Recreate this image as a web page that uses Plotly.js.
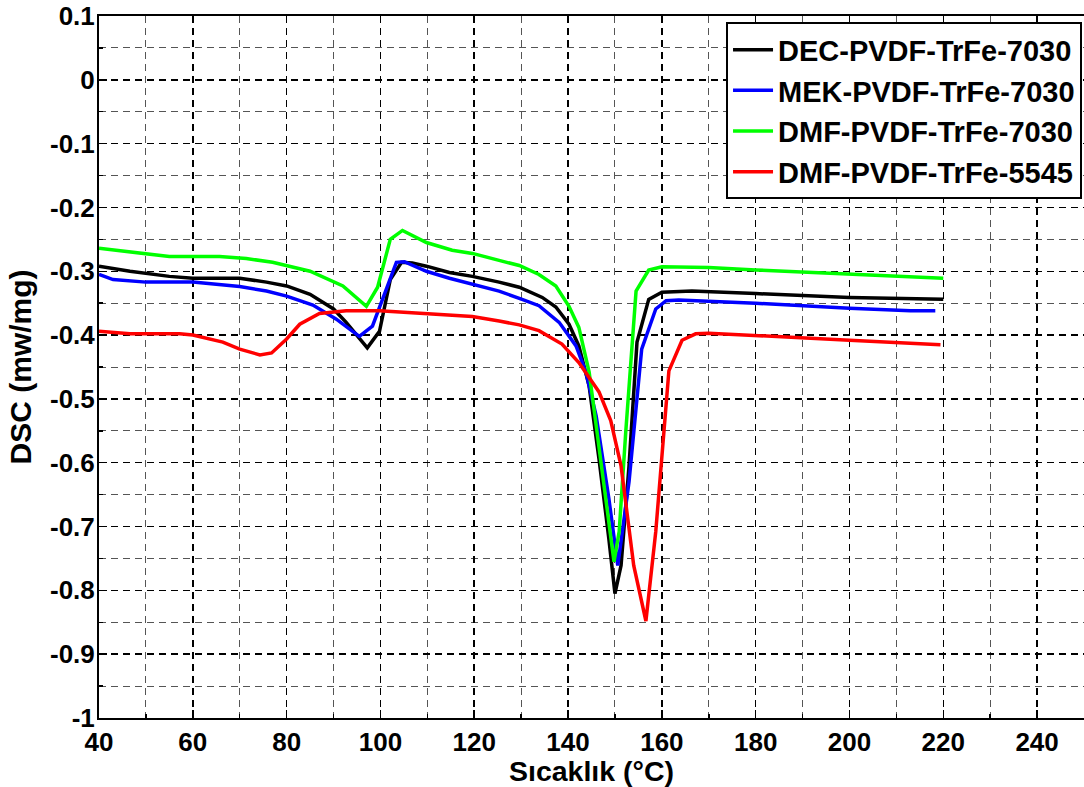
<!DOCTYPE html>
<html>
<head>
<meta charset="utf-8">
<script src="https://cdn.plot.ly/plotly-3.0.1.min.js"></script>
<style>html,body{margin:0;padding:0;background:#fff;}#chart{width:1084px;height:787px;}</style>
</head>
<body>
<div id="chart"></div>
<script>
const seriesNames = ["DEC-PVDF-TrFe-7030", "MEK-PVDF-TrFe-7030", "DMF-PVDF-TrFe-7030", "DMF-PVDF-TrFe-5545"];

const decX = [40, 46.6, 55, 60, 70, 75.7, 80, 85, 90, 92.7, 97.2, 99.8, 102.1, 104.5, 106.8, 109.8, 114.7, 119.6, 125.3, 129.6, 134.5, 137.4, 140.2, 142.3, 144.5, 146.6, 148.7, 150, 151.3, 153, 154.7, 157.2, 160, 166.4, 180, 200, 220];
const decY = [-0.292, -0.300, -0.308, -0.311, -0.311, -0.317, -0.323, -0.336, -0.359, -0.380, -0.420, -0.394, -0.313, -0.286, -0.287, -0.292, -0.302, -0.308, -0.317, -0.325, -0.341, -0.356, -0.383, -0.417, -0.480, -0.594, -0.719, -0.805, -0.761, -0.605, -0.411, -0.344, -0.333, -0.331, -0.335, -0.341, -0.344];

const mekX = [40, 43, 50, 60, 70, 75.7, 80, 85.6, 90.6, 95.5, 98.3, 100.4, 103.4, 105.1, 109.8, 114.7, 119.6, 125.3, 130.2, 133.8, 138.1, 141.7, 143.8, 146, 148.7, 150.6, 153, 155.7, 158.7, 160.9, 163.6, 180, 200, 213, 218.3];
const mekY = [-0.305, -0.313, -0.317, -0.317, -0.324, -0.331, -0.339, -0.353, -0.375, -0.402, -0.386, -0.344, -0.286, -0.285, -0.300, -0.311, -0.320, -0.331, -0.344, -0.354, -0.380, -0.417, -0.458, -0.527, -0.656, -0.761, -0.630, -0.422, -0.359, -0.346, -0.345, -0.350, -0.358, -0.362, -0.362];

const dmf70X = [40, 50, 55, 65.7, 71.4, 77, 85, 92, 97, 99.4, 102.1, 104.7, 109.8, 115.3, 119.6, 125.3, 129.6, 133.8, 137.4, 140.2, 142.3, 144.5, 147.2, 149.8, 150.9, 152.3, 154.5, 157.2, 160, 170, 180, 200, 220];
const dmf70Y = [-0.264, -0.273, -0.277, -0.277, -0.280, -0.286, -0.300, -0.323, -0.355, -0.325, -0.250, -0.236, -0.255, -0.267, -0.272, -0.283, -0.291, -0.305, -0.323, -0.355, -0.388, -0.458, -0.605, -0.755, -0.708, -0.552, -0.331, -0.298, -0.293, -0.294, -0.298, -0.305, -0.311];

const dmf55X = [40, 46.6, 57.2, 60, 66.4, 70, 74.3, 76.8, 80, 82.8, 87, 92.7, 99.8, 104, 109.8, 119.6, 125.3, 129.6, 133.8, 138.7, 142.3, 146.6, 149.1, 151.3, 154, 156.6, 158.7, 161.5, 164.3, 167.2, 170, 180, 200, 219.4];
const dmf55Y = [-0.394, -0.398, -0.398, -0.400, -0.411, -0.422, -0.431, -0.428, -0.406, -0.383, -0.366, -0.362, -0.362, -0.364, -0.366, -0.371, -0.378, -0.384, -0.393, -0.414, -0.443, -0.489, -0.534, -0.605, -0.761, -0.848, -0.708, -0.456, -0.408, -0.398, -0.397, -0.401, -0.408, -0.415];

const xTicks = [40, 60, 80, 100, 120, 140, 160, 180, 200, 220, 240];
const yTicks = [0.1, 0, -0.1, -0.2, -0.3, -0.4, -0.5, -0.6, -0.7, -0.8, -0.9, -1];

const colors = ["#000000", "#0000ff", "#00ff00", "#ff0000"];
const xs = [decX, mekX, dmf70X, dmf55X];
const ys = [decY, mekY, dmf70Y, dmf55Y];

const fontFam = "Liberation Sans, Arial, Helvetica, sans-serif";

const traces = seriesNames.map((n, i) => ({
  type: "scatter", mode: "lines", name: n,
  x: xs[i], y: ys[i],
  line: {color: colors[i], width: 3.5}
}));

const layout = {
  width: 1084, height: 787,
  margin: {l: 99, r: 0, t: 16, b: 69},
  paper_bgcolor: "#ffffff", plot_bgcolor: "#ffffff",
  font: {family: fontFam, size: 26, color: "#000", weight: 700},
  showlegend: true,
  legend: {
    x: 0.998, y: 0.991, xanchor: "right", yanchor: "top",
    bgcolor: "#ffffff", bordercolor: "#000000", borderwidth: 2,
    font: {family: fontFam, size: 29, color: "#000", weight: 700},
    tracegroupgap: 0, itemwidth: 40
  },
  xaxis: {
    range: [40, 250], tickvals: xTicks, ticktext: xTicks.map(String),
    showline: true, mirror: true, linecolor: "#000", linewidth: 2,
    ticks: "inside", ticklen: 8, tickwidth: 1.5, tickcolor: "#000",
    showgrid: true, gridcolor: "#000", gridwidth: 1.5, griddash: "7px,5px",
    minor: {dtick: 10, tick0: 40, showgrid: true, gridcolor: "#555", gridwidth: 1, griddash: "7px,5px", ticks: "inside", ticklen: 4},
    zeroline: false,
    tickfont: {family: fontFam, size: 26, weight: 700},
    title: {text: "Sıcaklık (°C)", font: {family: fontFam, size: 28.5, weight: 700}, standoff: 2},
    automargin: false
  },
  yaxis: {
    range: [-1, 0.1], tickvals: yTicks, ticktext: yTicks.map(v => String(v)),
    showline: true, mirror: true, linecolor: "#000", linewidth: 2,
    ticks: "inside", ticklen: 8, tickwidth: 1.5, tickcolor: "#000",
    showgrid: true, gridcolor: "#000", gridwidth: 1.5, griddash: "7px,5px",
    minor: {dtick: 0.05, tick0: 0, showgrid: true, gridcolor: "#555", gridwidth: 1, griddash: "7px,5px", ticks: "inside", ticklen: 4},
    zeroline: false,
    ticklabelstandoff: -3,
    tickfont: {family: fontFam, size: 26, weight: 700},
    title: {text: "DSC (mw/mg)", font: {family: fontFam, size: 30, weight: 700}, standoff: 9},
    automargin: false
  }
};

Plotly.newPlot("chart", traces, layout, {displayModeBar: false, staticPlot: true});
</script>
</body>
</html>
